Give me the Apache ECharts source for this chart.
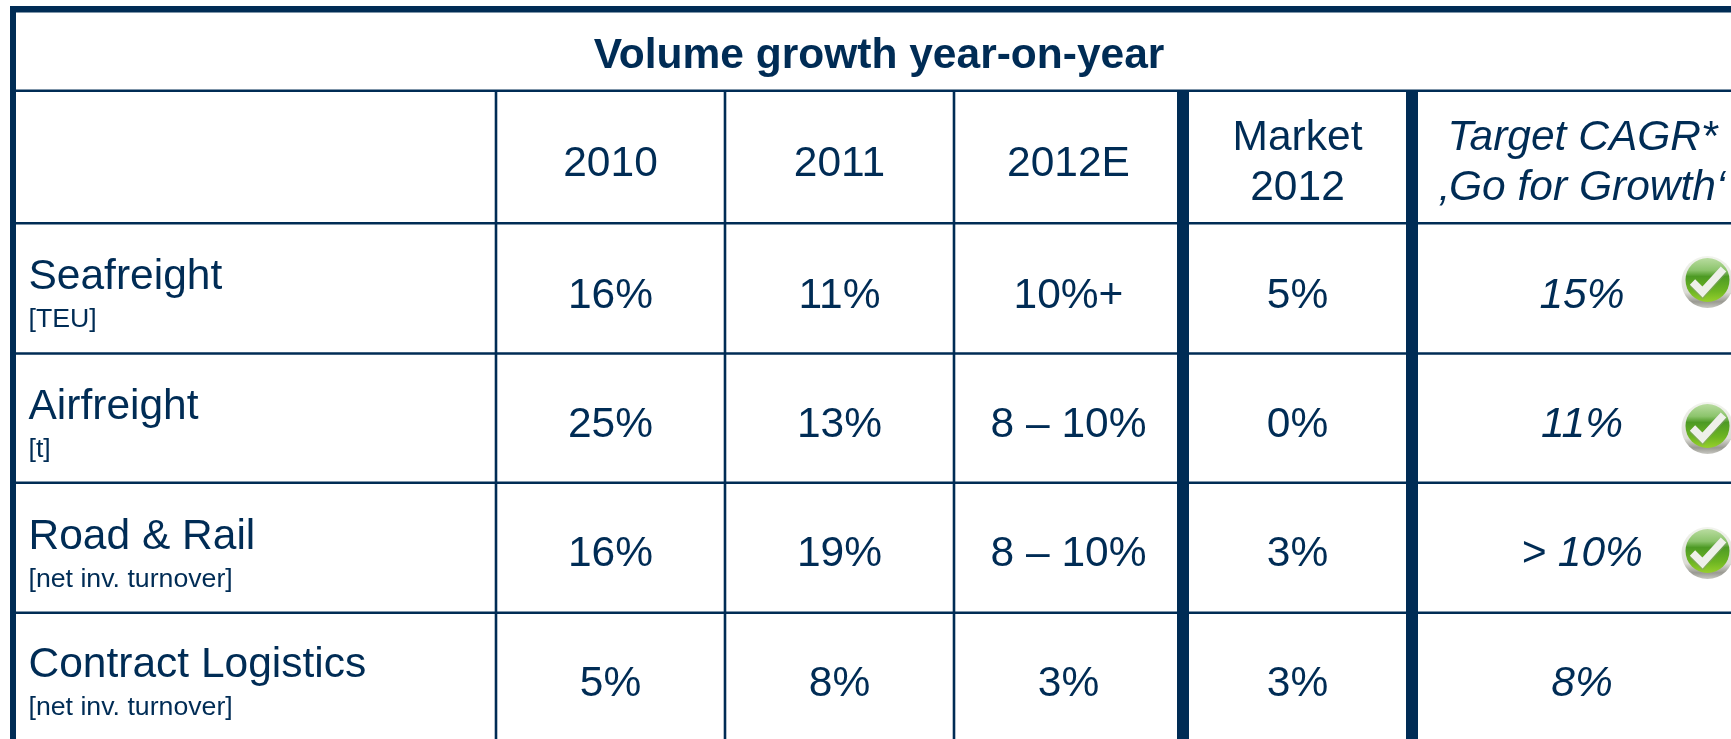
<!DOCTYPE html>
<html>
<head>
<meta charset="utf-8">
<style>html,body{margin:0;padding:0;background:#fff}#main{width:1731px;height:739px}</style>
<script src="https://cdn.jsdelivr.net/npm/echarts@6/dist/echarts.min.js"></script>
</head>
<body>
<div id="main"></div>
<script>
var title = 'Volume growth year-on-year';
var headers = ['2010', '2011', '2012E', 'Market\n2012', 'Target CAGR*\n‚Go for Growth‘'];
var rows = ['Seafreight', 'Airfreight', 'Road & Rail', 'Contract Logistics'];
var units = ['[TEU]', '[t]', '[net inv. turnover]', '[net inv. turnover]'];
var v2010 = ['16%', '25%', '16%', '5%'];
var v2011 = ['11%', '13%', '19%', '8%'];
var v2012 = ['10%+', '8 – 10%', '8 – 10%', '3%'];
var market = ['5%', '0%', '3%', '3%'];
var target = ['15%', '11%', '> 10%', '8%'];
var checked = [true, true, true, false];

var navy = '#002c55';
var font = '"Liberation Sans", Arial, sans-serif';

// table layout, in page pixels
var colEdges = [16, 496, 725, 954, 1183, 1412, 1731];
var rowEdges = [12, 90.8, 223.3, 353.5, 482.8, 612.8, 739];
var checkY = [282, 428, 553];
var valueShift = [8, 7, 6, 8];
var thinLine = 2.6, thickLine = 12;

var chart = echarts.init(document.getElementById('main'));

function cellText(api, d) {
  var p = api.coord([d.x, d.y]);
  return {
    type: 'text',
    style: {
      x: p[0],
      y: p[1],
      text: d.text,
      fill: navy,
      font: (d.style || 'normal') + ' ' + d.weight + ' ' + d.size + 'px ' + font,
      align: d.align || 'center',
      verticalAlign: 'middle',
      lineHeight: d.lineHeight || d.size
    }
  };
}

// every text of the table
var texts = [];
function addText(x, y, text, size, extra) {
  texts.push(Object.assign({ value: [x, y], x: x, y: y, text: text, size: size, weight: 'normal' }, extra));
}
function colMid(i) { return (colEdges[i] + colEdges[i + 1]) / 2; }
function rowMid(i) { return (rowEdges[i] + rowEdges[i + 1]) / 2; }

addText(879, 56.5, title, 42.5, { weight: 'bold' });
headers.forEach(function (h, i) {
  var multi = h.indexOf('\n') > 0;
  addText(colMid(i + 1) + (i == 4 ? 11 : 0), multi ? 163 : 164, h, 42.5, { style: i == 4 ? 'italic' : 'normal', lineHeight: 50 });
});
var columns = [v2010, v2011, v2012, market];
rows.forEach(function (r, i) {
  var y = rowMid(i + 2);
  addText(28.5, y - 11, r, 42.5, { align: 'left' });
  addText(28.5, y + 31.5, units[i], 26.7, { align: 'left' });
  columns.forEach(function (c, j) {
    addText(colMid(j + 1), y + valueShift[i], c[i], 42.5);
  });
  addText(1582, y + valueShift[i], target[i], 42.5, { style: 'italic' });
});

// rule segments: [x1, y1, x2, y2, width]
var rules = [
  [10, 9.3, 1731, 9.3, 6.6],
  [13, 6, 13, 739, 6],
  [16, rowEdges[1], 1731, rowEdges[1], thinLine]
];
rowEdges.slice(2, 6).forEach(function (y) {
  rules.push([16, y, 1731, y, thinLine]);
});
[1, 2, 3].forEach(function (i) {
  rules.push([colEdges[i], rowEdges[1], colEdges[i], 739, thinLine]);
});
[4, 5].forEach(function (i) {
  rules.push([colEdges[i], rowEdges[1], colEdges[i], 739, thickLine]);
});

var checks = [];
checked.forEach(function (c, i) {
  if (c) checks.push([1707.5, checkY[i]]);
});

function renderCheck(params, api) {
  var p = api.coord([api.value(0), api.value(1)]);
  var cx = p[0], cy = p[1], r = 26;
  return {
    type: 'group',
    children: [
      { type: 'circle', shape: { cx: cx, cy: cy, r: r },
        style: { fill: new echarts.graphic.LinearGradient(0, 0, 0, 1, [
          { offset: 0, color: '#f2f4ee' }, { offset: 0.7, color: '#dcdcd6' }, { offset: 0.88, color: '#9a9a92' }, { offset: 1, color: '#c8c8c2' }]) } },
      { type: 'circle', shape: { cx: cx, cy: cy - 2, r: r - 4 },
        style: { fill: new echarts.graphic.LinearGradient(0, 0, 0, 1, [
          { offset: 0, color: '#b9dca0' }, { offset: 0.28, color: '#8cc46c' }, { offset: 0.42, color: '#4d9a24' }, { offset: 0.75, color: '#6db522' }, { offset: 1, color: '#97d02c' }]) } },
      { type: 'polyline', shape: { points: [[cx - 15, cy + 1], [cx - 5, cy + 11], [cx + 16, cy - 12]] },
        style: { stroke: '#8a9a80', lineWidth: 9, fill: null, opacity: 0.45 } },
      { type: 'polyline', shape: { points: [[cx - 15, cy], [cx - 5, cy + 10], [cx + 16, cy - 13]] },
        style: { stroke: '#eef0ea', lineWidth: 7.5, fill: null } }
    ]
  };
}

chart.setOption({
  animation: false,
  backgroundColor: '#fff',
  grid: { left: 0, right: 0, top: 0, bottom: 0 },
  xAxis: { type: 'value', min: 0, max: 1731, show: false },
  yAxis: { type: 'value', min: 0, max: 739, inverse: true, show: false },
  series: [
    {
      type: 'custom',
      coordinateSystem: 'cartesian2d',
      silent: true,
      data: rules,
      encode: { x: [0, 2], y: [1, 3] },
      renderItem: function (params, api) {
        var a = api.coord([api.value(0), api.value(1)]);
        var b = api.coord([api.value(2), api.value(3)]);
        return { type: 'line', shape: { x1: a[0], y1: a[1], x2: b[0], y2: b[1] },
          style: { stroke: navy, lineWidth: api.value(4) } };
      }
    },
    {
      type: 'custom',
      coordinateSystem: 'cartesian2d',
      silent: true,
      data: checks,
      renderItem: renderCheck
    },
    {
      type: 'custom',
      coordinateSystem: 'cartesian2d',
      silent: true,
      data: texts,
      renderItem: function (params, api) {
        return cellText(api, texts[params.dataIndex]);
      }
    }
  ]
});
</script>
</body>
</html>
